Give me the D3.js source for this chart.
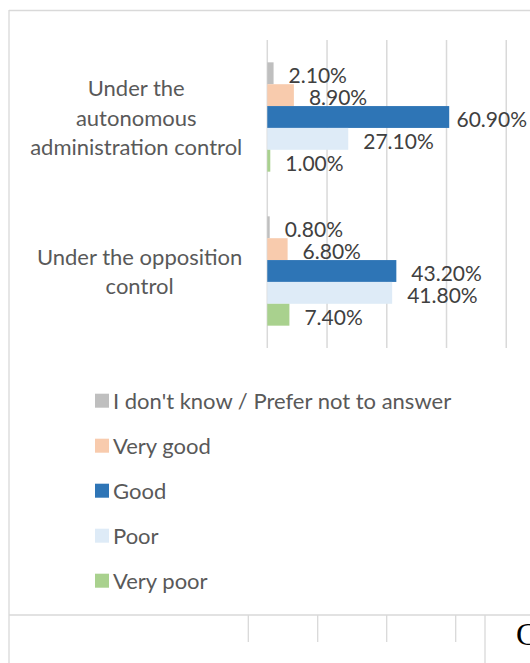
<!DOCTYPE html>
<html>
<head>
<meta charset="utf-8">
<script src="https://cdn.jsdelivr.net/npm/d3@7/dist/d3.min.js"></script>
<style>
  html, body { margin: 0; padding: 0; background: #fff; }
  svg { display: block; }
</style>
</head>
<body>
<svg id="chart" width="530" height="663"></svg>
<script>
// Survey categories (wrapped into lines as shown on the axis)
const categories = ["autonomous", "opposition"];
const categoryLines = [
  ["Under the", "autonomous", "administration control"],
  ["Under the opposition", "control"]
];

// Answer series, top to bottom within each group
const seriesNames = ["I don't know / Prefer not to answer", "Very good", "Good", "Poor", "Very poor"];
const seriesColors = ["#bfbfbf", "#f8cbad", "#2e75b6", "#deebf7", "#a9d18e"];

// Percent values per series: [autonomous, opposition]
const dontKnow = [2.1, 0.8];
const veryGood = [8.9, 6.8];
const good     = [60.9, 43.2];
const poor     = [27.1, 41.8];
const veryPoor = [1.0, 7.4];
const seriesValues = [dontKnow, veryGood, good, poor, veryPoor];

// Gridline ticks (percent)
const gridTicks = [0, 20, 40, 60, 80, 100];

const svg = d3.select("#chart");
const W = 530, H = 663;
const font = "Lato, 'Open Sans', sans-serif";

// Outer frame of the chart cell and the table row below it
const frame = svg.append("g").attr("stroke", "#d9d9d9").attr("stroke-width", 1.3).attr("fill", "none");
frame.append("line").attr("x1", 9).attr("x2", W).attr("y1", 10.5).attr("y2", 10.5);
frame.append("line").attr("x1", 9).attr("x2", 9).attr("y1", 10).attr("y2", H);
frame.append("line").attr("x1", 9).attr("x2", W).attr("y1", 615).attr("y2", 615);
[248.3, 317.7, 386.7, 455.7].forEach(x =>
  frame.append("line").attr("x1", x).attr("x2", x).attr("y1", 615).attr("y2", 642));
frame.append("line").attr("x1", 485).attr("x2", 485).attr("y1", 615).attr("y2", H);
svg.append("text").attr("x", 516).attr("y", 645)
  .attr("font-family", "'Liberation Serif', 'DejaVu Serif', serif")
  .attr("font-size", 32).attr("fill", "#000").text("C");

// Scales
const x = d3.scaleLinear().domain([0, 100]).range([267.3, 566]);
const y = d3.scaleBand().domain(categories).range([40, 348]).paddingInner(0.29).paddingOuter(0.145);
const ySub = d3.scaleBand().domain(d3.range(seriesNames.length)).range([0, y.bandwidth()]);

// Vertical gridlines
svg.append("g").selectAll("line").data(gridTicks).join("line")
  .attr("x1", d => x(d)).attr("x2", d => x(d))
  .attr("y1", 40).attr("y2", 348)
  .attr("stroke", "#d9d9d9").attr("stroke-width", 1.5);

// Bars
const groups = svg.append("g").selectAll("g").data(categories).join("g")
  .attr("transform", c => `translate(0,${y(c)})`);

const fmt = v => d3.format(".2f")(v) + "%";

groups.each(function(c, ci) {
  const g = d3.select(this);
  const rows = seriesValues.map((vals, si) => ({ si, v: vals[ci] }));
  g.selectAll("rect").data(rows).join("rect")
    .attr("x", x(0))
    .attr("y", d => ySub(d.si))
    .attr("width", d => x(d.v) - x(0))
    .attr("height", ySub.bandwidth())
    .attr("fill", d => seriesColors[d.si]);

  g.selectAll("text").data(rows).join("text")
    .attr("x", d => x(d.v) + 15)
    .attr("y", d => ySub(d.si) + ySub.bandwidth() / 2 + 1.5)
    .attr("dominant-baseline", "central")
    .attr("font-family", font).attr("font-size", 21).attr("fill", "#404040")
    .text(d => fmt(d.v))
    .each(function() {
      // keep labels inside the right edge of the chart
      const t = d3.select(this);
      const w = this.getComputedTextLength();
      const x0 = +t.attr("x");
      if (x0 + w > W - 3) t.attr("x", W - 3 - w);
    });
});

// Category labels: each wrapped block sits left of the axis, lines centred within it
categories.forEach((c, ci) => {
  const lines = categoryLines[ci];
  const g = svg.append("g");
  const texts = g.selectAll("text").data(lines).join("text")
    .attr("font-family", font).attr("font-size", 22).attr("fill", "#595959")
    .attr("text-anchor", "middle")
    .text(d => d);
  let maxW = 0;
  texts.each(function() { maxW = Math.max(maxW, this.getComputedTextLength()); });
  const cx = x(0) - 25 - maxW / 2;
  const lh = 29.6;
  const mid = y(c) + y.bandwidth() / 2;
  texts.attr("x", cx)
    .attr("y", (d, i) => mid + (i - (lines.length - 1) / 2) * lh)
    .attr("dominant-baseline", "central");
});

// Legend
const legend = svg.append("g").selectAll("g").data(seriesNames).join("g")
  .attr("transform", (d, i) => `translate(95,${400.7 + i * 45})`);
legend.append("rect").attr("x", 0).attr("y", -7).attr("width", 14).attr("height", 14)
  .attr("fill", (d, i) => seriesColors[i]);
legend.append("text").attr("x", 18).attr("y", 0).attr("dominant-baseline", "central")
  .attr("font-family", font).attr("font-size", 22).attr("fill", "#595959")
  .text(d => d);
</script>
</body>
</html>
